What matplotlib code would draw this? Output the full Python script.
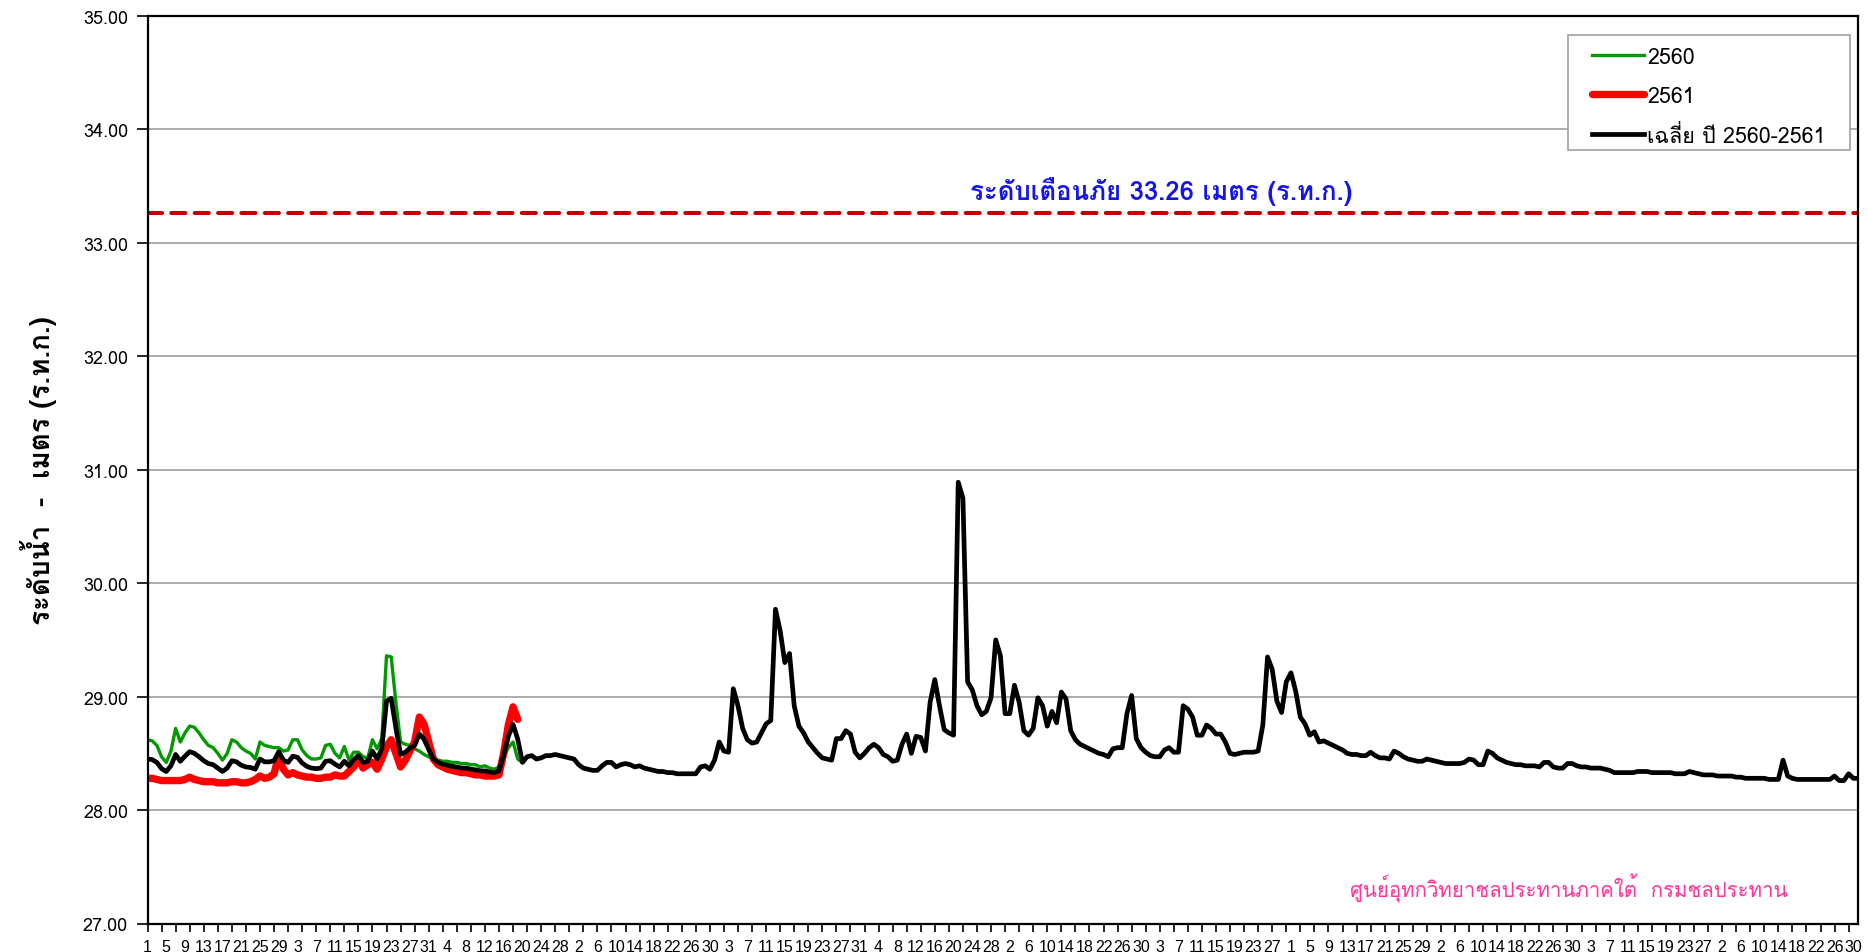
import numpy as np
import matplotlib.pyplot as plt
from matplotlib import font_manager
from matplotlib.ft2font import FT2Font
from matplotlib.patches import Rectangle


def thai_family():
    # first installed font that actually has Thai glyphs
    for f in font_manager.fontManager.ttflist:
        try:
            if 0x0E01 in FT2Font(f.fname).get_charmap():
                return f.name
        except Exception:
            continue
    return 'DejaVu Sans'


THAI = thai_family()
plt.rcParams['font.family'] = [THAI, 'DejaVu Sans']

# hydrological year April -> March (Feb kept with 29 days)
month_days = [30, 31, 30, 31, 31, 30, 31, 30, 31, 31, 29, 31]

# ระดับน้ำรายวัน ปี 2560 (ม. ร.ท.ก.)
level_2560 = [
    # Apr
    28.62, 28.61, 28.57, 28.47, 28.42, 28.52, 28.72, 28.60, 28.68, 28.74,
    28.73, 28.68, 28.62, 28.57, 28.55, 28.50, 28.44, 28.50, 28.62, 28.60,
    28.55, 28.52, 28.50, 28.45, 28.60, 28.57, 28.56, 28.55, 28.55, 28.52,
    # May
    28.53, 28.62, 28.62, 28.53, 28.48, 28.45, 28.45, 28.46, 28.57, 28.58,
    28.50, 28.46, 28.56, 28.44, 28.51, 28.51, 28.47, 28.46, 28.62, 28.54,
    28.63, 29.36, 29.35, 28.95, 28.60, 28.58, 28.57, 28.54, 28.52, 28.49,
    28.47,
    # Jun
    28.45, 28.44, 28.43, 28.43, 28.42, 28.42, 28.41, 28.41, 28.40, 28.40,
    28.38, 28.39, 28.37, 28.36, 28.38, 28.47, 28.55, 28.60, 28.45, 28.42,
    28.47, 28.48, 28.45, 28.46, 28.48, 28.48, 28.49, 28.48, 28.47, 28.46,
    # Jul
    28.45, 28.40, 28.37, 28.36, 28.35, 28.35, 28.39, 28.42, 28.42, 28.38,
    28.40, 28.41, 28.40, 28.38, 28.39, 28.37, 28.36, 28.35, 28.34, 28.34,
    28.33, 28.33, 28.32, 28.32, 28.32, 28.32, 28.32, 28.38, 28.39, 28.36,
    28.44,
    # Aug
    28.60, 28.52, 28.51, 29.07, 28.92, 28.72, 28.62, 28.59, 28.60, 28.68,
    28.76, 28.79, 29.77, 29.58, 29.30, 29.38, 28.92, 28.74, 28.68, 28.60,
    28.55, 28.50, 28.46, 28.45, 28.44, 28.63, 28.63, 28.70, 28.67, 28.51,
    28.46,
    # Sep
    28.50, 28.55, 28.58, 28.55, 28.49, 28.47, 28.43, 28.44, 28.58, 28.67,
    28.50, 28.65, 28.64, 28.52, 28.95, 29.15, 28.92, 28.71, 28.68, 28.66,
    30.89, 30.75, 29.13, 29.06, 28.92, 28.84, 28.87, 28.99, 29.50, 29.36,
    # Oct
    28.85, 28.85, 29.10, 28.95, 28.70, 28.66, 28.72, 28.99, 28.92, 28.74,
    28.87, 28.77, 29.04, 28.98, 28.70, 28.62, 28.58, 28.56, 28.54, 28.52,
    28.50, 28.49, 28.47, 28.54, 28.55, 28.55, 28.85, 29.01, 28.63, 28.55,
    28.51,
    # Nov
    28.48, 28.47, 28.47, 28.53, 28.55, 28.51, 28.51, 28.92, 28.89, 28.82,
    28.66, 28.66, 28.75, 28.72, 28.67, 28.67, 28.60, 28.50, 28.49, 28.50,
    28.51, 28.51, 28.51, 28.52, 28.75, 29.35, 29.24, 28.96, 28.86, 29.13,
    # Dec
    29.21, 29.05, 28.82, 28.76, 28.66, 28.69, 28.60, 28.61, 28.59, 28.57,
    28.55, 28.53, 28.50, 28.49, 28.49, 28.48, 28.48, 28.51, 28.48, 28.46,
    28.46, 28.45, 28.52, 28.50, 28.47, 28.45, 28.44, 28.43, 28.43, 28.45,
    28.44,
    # Jan
    28.43, 28.42, 28.41, 28.41, 28.41, 28.41, 28.42, 28.45, 28.44, 28.40,
    28.40, 28.52, 28.50, 28.46, 28.44, 28.42, 28.41, 28.40, 28.40, 28.39,
    28.39, 28.39, 28.38, 28.42, 28.42, 28.38, 28.37, 28.37, 28.41, 28.41,
    28.39,
    # Feb
    28.38, 28.38, 28.37, 28.37, 28.37, 28.36, 28.35, 28.33, 28.33, 28.33,
    28.33, 28.33, 28.34, 28.34, 28.34, 28.33, 28.33, 28.33, 28.33, 28.33,
    28.32, 28.32, 28.32, 28.34, 28.33, 28.32, 28.31, 28.31, 28.31,
    # Mar
    28.30, 28.30, 28.30, 28.30, 28.29, 28.29, 28.28, 28.28, 28.28, 28.28,
    28.28, 28.27, 28.27, 28.27, 28.44, 28.30, 28.28, 28.27, 28.27, 28.27,
    28.27, 28.27, 28.27, 28.27, 28.27, 28.30, 28.26, 28.26, 28.32, 28.28,
    28.28,
]

# ระดับน้ำรายวัน ปี 2561 (ถึงกลางเดือนมิถุนายน)
level_2561 = [
    # Apr
    28.28, 28.28, 28.27, 28.26, 28.26, 28.26, 28.26, 28.26, 28.27, 28.29,
    28.27, 28.26, 28.25, 28.25, 28.25, 28.24, 28.24, 28.24, 28.25, 28.25,
    28.24, 28.24, 28.25, 28.27, 28.30, 28.28, 28.29, 28.32, 28.48, 28.36,
    # May
    28.31, 28.33, 28.31, 28.30, 28.29, 28.29, 28.28, 28.28, 28.29, 28.29,
    28.31, 28.30, 28.30, 28.34, 28.38, 28.45, 28.37, 28.40, 28.42, 28.36,
    28.45, 28.56, 28.62, 28.50, 28.38, 28.44, 28.52, 28.60, 28.82, 28.76,
    28.60,
    # Jun
    28.45, 28.40, 28.38, 28.36, 28.35, 28.34, 28.33, 28.33, 28.32, 28.31,
    28.31, 28.30, 28.30, 28.30, 28.31, 28.50, 28.75, 28.91, 28.80,
]

warning_level = 33.26

series_names = ['2560', '2561', 'เฉลี่ย ปี 2560-2561']
warning_text = 'ระดับเตือนภัย 33.26 เมตร (ร.ท.ก.)'
credit_text = 'ศูนย์อุทกวิทยาชลประทานภาคใต้  กรมชลประทาน'
y_title = 'ระดับน้ำ  -  เมตร (ร.ท.ก.)'

level_2560 = np.array(level_2560)
level_2561 = np.array(level_2561)
days = np.arange(1, len(level_2560) + 1)
day_of_month = np.concatenate([np.arange(1, n + 1) for n in month_days])

# average of both years where 2561 exists, otherwise only 2560 is available
n61 = len(level_2561)
average = level_2560.copy()
average[:n61] = (level_2560[:n61] + level_2561) / 2

W, H = 1868, 953
fig = plt.figure(figsize=(W / 100, H / 100), dpi=100)
L, R, T, B = 147.5, 1858, 17, 924.5
ax = fig.add_axes([L / W, 1 - B / H, (R - L) / W, (B - T) / H])

ax.plot(days, level_2560, color='#009900', lw=2.4, label=series_names[0])
ax.plot(days[:n61], level_2561, color='#FF0000', lw=5.3,
        solid_capstyle='round', label=series_names[1])
ax.plot(days, average, color='black', lw=3.4, label=series_names[2])

ax.axhline(warning_level, color='#C00000', lw=2.9, dashes=(3.5, 2.3),
           dash_capstyle='round')
ax.text(217.4, 33.46, warning_text, color='#1414E6', fontsize=18.5,
        fontweight='bold', ha='center', va='center')
ax.text(304.2, 27.32, credit_text, color='#FF3399', fontsize=14.7,
        ha='center', va='center')

ax.set_xlim(1, len(days))
ax.set_ylim(27, 35)
ax.set_yticks(np.arange(27, 35.5, 1))
ax.set_yticklabels(['%.2f' % v for v in np.arange(27, 35.5, 1)], fontsize=13)

# tick marks every 3 days, day-of-month labels every 4 days
ax.xaxis.remove_overlapping_locs = False
ax.set_xticks(days[::3])
ax.set_xticklabels([])
ax.set_xticks(days[::4], minor=True)
ax.set_xticklabels([str(d) for d in day_of_month[::4]], minor=True,
                   fontsize=11.5, family='Liberation Sans')
ax.tick_params(axis='y', length=8, width=1.2, pad=6)
ax.tick_params(axis='x', which='major', length=6, width=1.2)
ax.tick_params(axis='x', which='minor', length=0, pad=11)
ax.grid(axis='y', color='#A6A6A6', lw=1.3)
ax.set_axisbelow(True)
for s in ax.spines.values():
    s.set_linewidth(1.6)

fig.text(39 / W, 1 - (T + B) / 2 / H, y_title, rotation=90, fontsize=20,
         fontweight='bold', ha='center', va='center')

# legend entries without frame, box drawn separately (wider side margins)
ax.add_patch(Rectangle((1568 / W, 1 - 151 / H), 282 / W, 115 / H,
                       transform=fig.transFigure, facecolor='white',
                       edgecolor='#A0A0A0', lw=1.2, zorder=4,
                       clip_on=False))
leg = ax.legend(loc='upper left', bbox_to_anchor=(1592 / W, 1 - 47.5 / H),
                bbox_transform=fig.transFigure, borderaxespad=0,
                borderpad=0, fontsize=15.5, handlelength=2.4,
                labelspacing=0.85, frameon=False, handletextpad=0.15)
leg.set_zorder(5)

fig.savefig('out.png', dpi=100)
